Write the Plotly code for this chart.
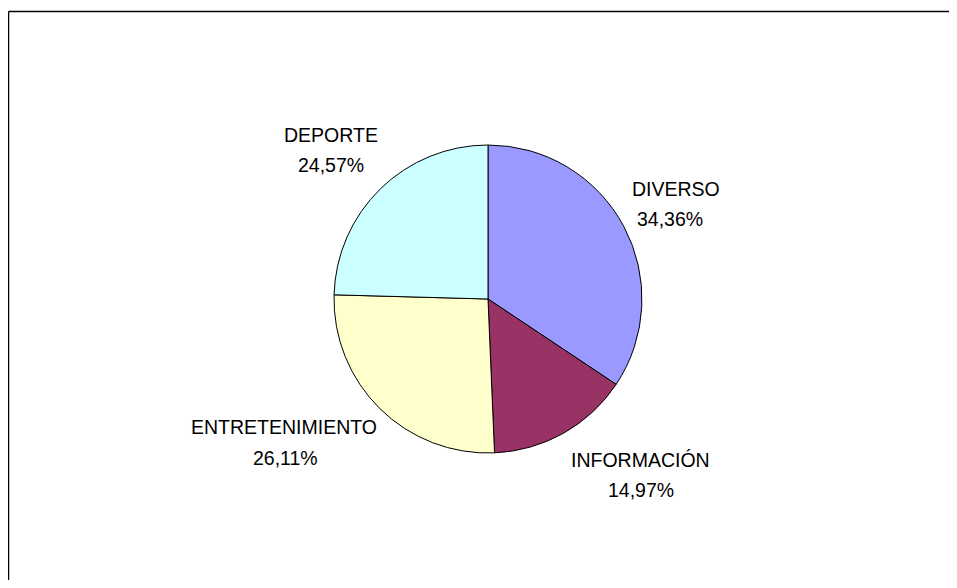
import plotly.graph_objects as go

categories = ["DIVERSO", "INFORMACIÓN", "ENTRETENIMIENTO", "DEPORTE"]
values = [34.36, 14.97, 26.11, 24.57]
colors = ["#9999FF", "#993366", "#FFFFCC", "#CCFFFF"]

# label placement in page pixels (centres of name line and percent line)
label_pos = {
    "DIVERSO": (676, 189, 670, 219),
    "INFORMACIÓN": (640, 460, 641, 490),
    "ENTRETENIMIENTO": (284, 427, 285, 458),
    "DEPORTE": (331, 135, 331, 165),
}

OFF = 8  # browser body margin
W, H = 949, 572
cx, cy, r = 488 - OFF, 299 - OFF, 154


def px(x):
    return (x - OFF) / W


def py(y):
    return 1 - (y - OFF) / H


fig = go.Figure(go.Pie(
    labels=categories,
    values=values,
    sort=False,
    direction="clockwise",
    rotation=0,
    marker=dict(colors=colors, line=dict(color="#000000", width=1)),
    textinfo="none",
    showlegend=False,
    domain=dict(x=[(cx - r) / W, (cx + r) / W],
                y=[1 - (cy + r) / H, 1 - (cy - r) / H]),
))

font = dict(family="Liberation Sans, Arial, sans-serif", size=19.5, color="#000000")
annotations = []
for cat, val in zip(categories, values):
    x1, y1, x2, y2 = label_pos[cat]
    pct = f"{val:.2f}".replace(".", ",") + "%"
    annotations.append(dict(text=cat, x=px(x1), y=py(y1), xref="paper", yref="paper",
                            xanchor="center", yanchor="middle", showarrow=False, font=font))
    annotations.append(dict(text=pct, x=px(x2), y=py(y2), xref="paper", yref="paper",
                            xanchor="center", yanchor="middle", showarrow=False, font=font))

frame = dict(color="#000000", width=1.5)
fig.update_layout(
    width=W, height=H,
    margin=dict(l=0, r=0, t=0, b=0),
    paper_bgcolor="#FFFFFF",
    plot_bgcolor="#FFFFFF",
    annotations=annotations,
    shapes=[
        dict(type="line", xref="paper", yref="paper",
             x0=0.5 / W, x1=1.0, y0=1 - 3.5 / H, y1=1 - 3.5 / H, line=frame),
        dict(type="line", xref="paper", yref="paper",
             x0=0.5 / W, x1=0.5 / W, y0=0.0, y1=1 - 3.5 / H, line=frame),
    ],
)

fig.write_html("out.html")
